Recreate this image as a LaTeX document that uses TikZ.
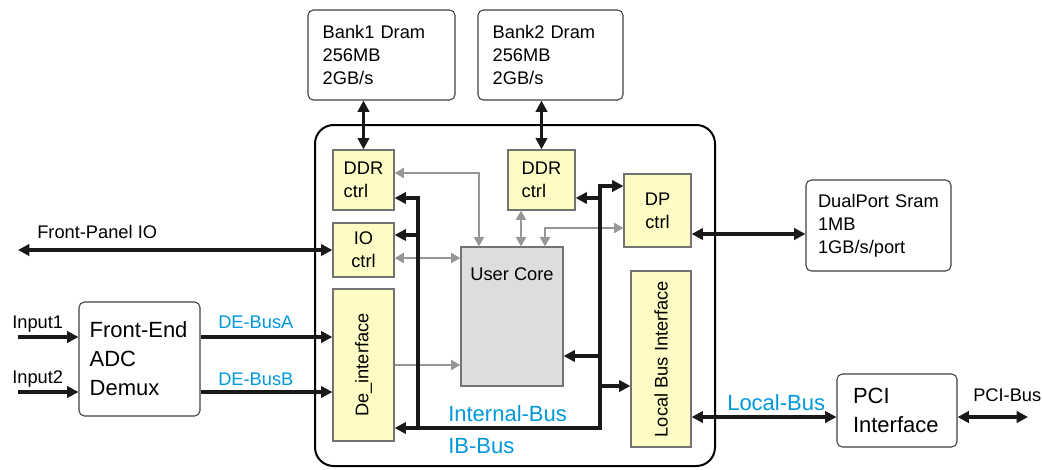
\documentclass[tikz,border=0pt]{standalone}
\usepackage{fontspec}
\usepackage{graphicx}
\setmainfont{Liberation Sans}
\usetikzlibrary{arrows.meta,calc}

\definecolor{ctrlyellow}{RGB}{255,251,196}
\definecolor{busblue}{RGB}{0,152,218}
\definecolor{linegray}{RGB}{150,150,150}
\definecolor{coregray}{RGB}{221,221,221}

\newcommand{\txtsmall}{\fontsize{13.7}{17.25}\selectfont}
\newcommand{\txtlarge}{\fontsize{16.5}{21.75}\selectfont}

\tikzset{
  membox/.style={draw=black!75, line width=0.8pt, rounded corners=4pt, fill=white,
    align=left, inner xsep=11pt, inner ysep=0pt, font=\txtsmall},
  ctrlbox/.style={draw=black!55, line width=0.9pt, fill=ctrlyellow, align=center,
    inner sep=0pt, font=\txtsmall},
  bus/.style={line width=2.3pt, black!90, >={Triangle[length=8.5pt,width=8.5pt]}},
  gbus/.style={line width=1.6pt, linegray, >={Triangle[length=7pt,width=7.5pt]}},
  lbl/.style={font=\txtsmall, inner sep=0pt, anchor=base west},
  buslabel/.style={text=busblue, inner sep=0pt, anchor=base west},
}

\begin{document}
\begin{tikzpicture}[x=0.75pt, y=-0.75pt]
    \useasboundingbox (0,0) rectangle (1042,469);

    % 1. FPGA 外框
    \node[draw, line width=1.5pt, rounded corners=14pt, minimum width=300pt,
          minimum height=255.75pt, inner sep=0pt] (fpga) at (515,295.5) {};

    % 2. 外部存储与接口
    \node[membox, text width=88.25pt, minimum height=67.5pt] (banka) at (381.5,55)
          {Bank1 Dram\\256MB\\2GB/s};
    \node[membox, text width=86.75pt, minimum height=67.5pt] (bankb) at (550.5,55)
          {Bank2 Dram\\256MB\\2GB/s};
    \node[membox, inner xsep=9pt, text width=90.75pt, minimum height=68.25pt] (dpsram)
          at (878.5,225.5) {DualPort Sram\\1MB\\1GB/s/port};
    \node[membox, font=\txtlarge, inner xsep=8pt, text width=74.75pt, minimum height=85.5pt]
          (fe) at (139.5,359) {Front-End\\ADC\\Demux};
    \node[membox, font=\txtlarge, inner xsep=12pt, text width=66pt, minimum height=54.75pt]
          (pci) at (897,410.5) {PCI\\Interface};

    % 3. 内部控制模块
    \node[ctrlbox, align=left, minimum width=45.75pt, minimum height=45pt] (ddra)
          at (363.5,180) {DDR\\ctrl};
    \node[ctrlbox, minimum width=45.75pt, minimum height=40.5pt] (ioctrl)
          at (363.5,250) {IO\\ctrl};
    \node[ctrlbox, minimum width=45.75pt, minimum height=114pt] (deif)
          at (363.5,365) {\rotatebox{90}{De\_interface}};
    \node[ctrlbox, align=left, minimum width=50.25pt, minimum height=45pt] (ddrb)
          at (541.5,180) {DDR\\ctrl};
    \node[ctrlbox, minimum width=50.25pt, minimum height=54.75pt] (dpctrl)
          at (657.5,210.5) {DP\\ctrl};
    \node[ctrlbox, minimum width=45pt, minimum height=132pt] (lbi)
          at (661,359) {\rotatebox{90}{Local Bus Interface}};
    \node[draw=black!55, line width=0.9pt, fill=coregray, minimum width=76.5pt,
          minimum height=104.25pt,
          label={[font=\txtsmall, anchor=center, yshift=-21pt]north:User Core}]
          (core) at (512,316.5) {};

    % 4. 灰色内部连线 (先画, 在黑线下面)
    \coordinate (cna) at ($(core.north)+(-33,0)$);
    \coordinate (cnb) at ($(core.north)+(9,0)$);
    \coordinate (cnc) at ($(core.north)+(33,0)$);
    \coordinate (gio) at ($(ioctrl.east)+(0,8)$);
    \draw[gbus,<->] ($(ddra.east)+(0,-7)$) -| (cna);
    \draw[gbus,<->] (gio) -- (gio -| core.west);
    \draw[gbus,<->] (cnb) -- (cnb |- ddrb.south);
    \draw[gbus,<->] ($(dpctrl.west)+(0,17.5)$) -| (cnc);
    \draw[gbus,->] (deif.east) -- (deif.east -| core.west);

    % 5. 内部总线 IB-Bus
    \coordinate (busl) at (418,428);
    \coordinate (busr) at (600,428);
    \coordinate (ioin) at ($(ioctrl.east)+(0,-15)$);
    \coordinate (ddrbin) at ($(ddrb.east)+(0,18)$);
    \coordinate (corein) at ($(core.east)+(0,39.5)$);
    \coordinate (lbiin) at ($(lbi.west)+(0,27)$);
    \draw[bus,<->] ($(dpctrl.west)+(0,-24.5)$) -| (busr) -- (busl -| deif.east);
    \draw[bus,->] (busl) |- ($(ddra.east)+(0,18)$);
    \draw[bus,->] (busl |- ioin) -- (ioin);
    \draw[bus,->] (busr |- ddrbin) -- (ddrbin);
    \draw[bus,->] (busr |- corein) -- (corein);
    \draw[bus,->] (busr |- lbiin) -- (lbiin);
    \node[buslabel, font=\txtlarge] (ibname) at (448,421.5) {Internal-Bus};
    \node[buslabel, font=\txtlarge] (ibbus) at (448,453.5) {IB-Bus};

    % 6. 外部连线
    \draw[bus,<->] (banka.south -| ddra.north) -- (ddra.north);
    \draw[bus,<->] (bankb.south -| ddrb.north) -- (ddrb.north);

    \coordinate (fpend) at (18,250);
    \draw[bus,<->] (fpend) -- (ioctrl.west);
    \node[lbl] (fplabel) at (37,238.5) {Front-Panel IO};

    \coordinate (ina) at (18,337);
    \coordinate (inb) at (18,392);
    \draw[bus,->] (ina) -- (ina -| fe.west);
    \draw[bus,->] (inb) -- (inb -| fe.west);
    \node[lbl] (inalabel) at (12,328.5) {Input1};
    \node[lbl] (inblabel) at (12,383.5) {Input2};

    \draw[bus,->] (ina -| fe.east) -- (ina -| deif.west);
    \draw[bus,->] (inb -| fe.east) -- (inb -| deif.west);
    \node[buslabel, font=\txtsmall] (debusa) at (218,328.5) {DE-BusA};
    \node[buslabel, font=\txtsmall] (debusb) at (218,385.5) {DE-BusB};

    \coordinate (dpl) at ($(dpsram.west)+(0,8.5)$);
    \draw[bus,<->] (dpl -| dpctrl.east) -- (dpl);

    \coordinate (lbpt) at ($(pci.west)+(0,6.5)$);
    \draw[bus,<->] (lbpt -| lbi.east) -- (lbpt);
    \node[buslabel, font=\txtlarge] (lbname) at (727,410.5) {Local-Bus};

    \coordinate (pcibus) at (1028,417);
    \draw[bus,<->] (pci.east |- pcibus) -- (pcibus);
    \node[lbl] (pcilabel) at (973,401.5) {PCI-Bus};

\end{tikzpicture}
\end{document}
